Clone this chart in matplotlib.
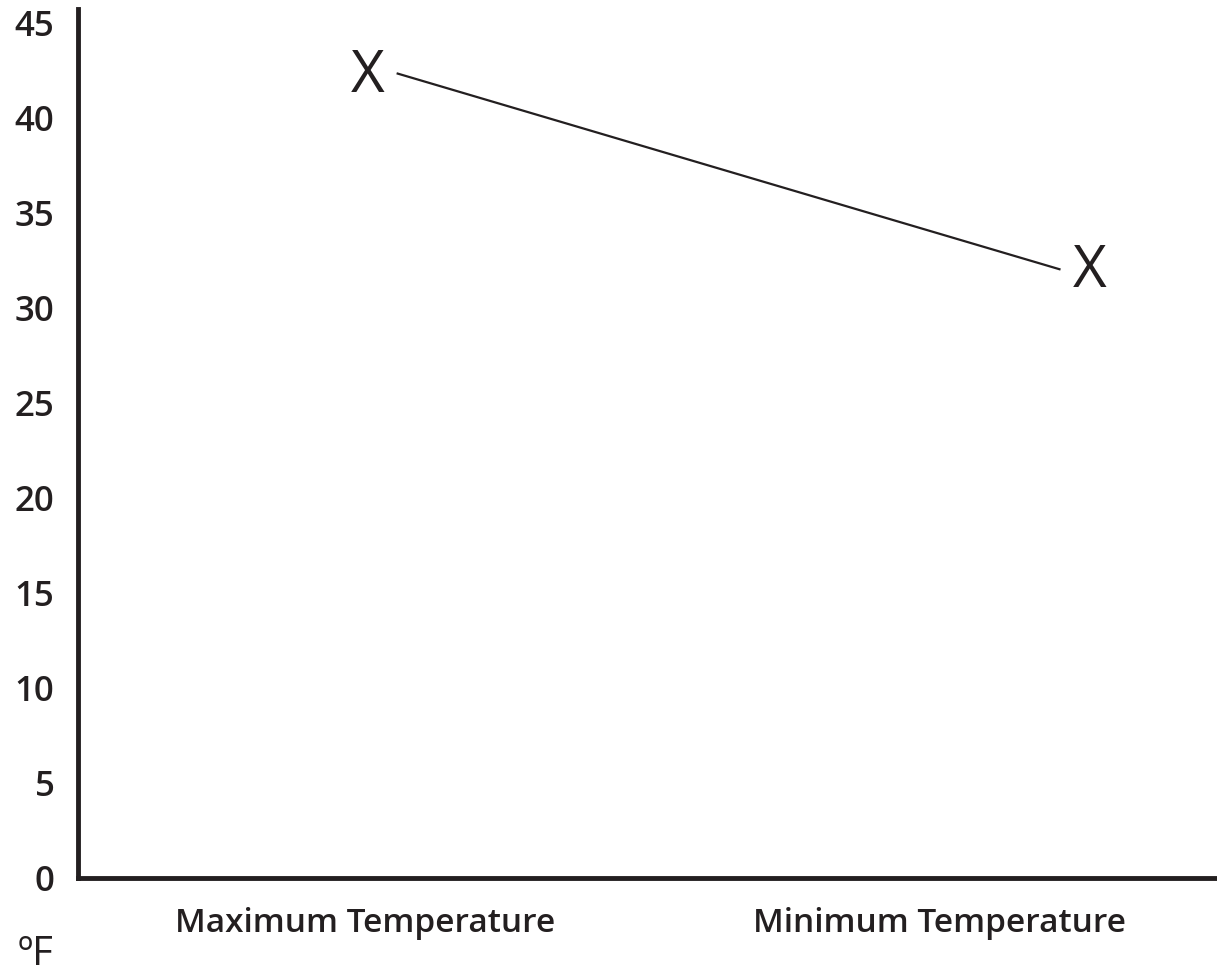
import numpy as np
import matplotlib
matplotlib.use('Agg')
from matplotlib import pyplot as plt
from matplotlib.transforms import offset_copy

# data
categories = ['Maximum Temperature', 'Minimum Temperature']
temps = [42.35, 32.05]
y_ticks = [0, 5, 10, 15, 20, 25, 30, 35, 40, 45]
unit = 'ºF'

ink = '#231f20'
plt.rcParams['font.family'] = ['Open Sans', 'DejaVu Sans']

fig = plt.figure(figsize=(12.17, 9.75), dpi=100)
ax = fig.add_axes([78 / 1217, 97 / 975, 1 - 78 / 1217, (879 - 10) / 975])

# category positions (tick labels) and where the X marks sit
cat_pos = np.arange(len(categories))
mark_pos = cat_pos + np.array([0.005, 0.26])
gap = 0.052

ax.set_xlim(-0.499, 1.482)
ax.set_ylim(0, 45.75)

# X marks, nudged a little down so the glyph centre sits on the value
mark_tr = offset_copy(ax.transData, fig=fig, x=0, y=-3, units='dots')
for x, t in zip(mark_pos, temps):
    ax.text(x, t, 'X', ha='center', va='center', fontsize=42,
            color=ink, fontweight='normal', transform=mark_tr)

ax.plot([mark_pos[0] + gap, mark_pos[1] - gap], temps, color=ink, lw=1.6)

ax.set_xticks(cat_pos)
ax.set_xticklabels(categories, fontsize=24, color=ink, fontweight='semibold')
ax.set_yticks(y_ticks)
ax.set_yticklabels([str(v) for v in y_ticks], fontsize=25, color=ink,
                   fontweight='semibold')
ax.tick_params(axis='both', length=0)
ax.tick_params(axis='y', pad=17)
ax.tick_params(axis='x', pad=21)

for side in ['top', 'right']:
    ax.spines[side].set_visible(False)
for side in ['left', 'bottom']:
    ax.spines[side].set_linewidth(3.5)
    ax.spines[side].set_color(ink)

fig.text(18 / 1217, 0, unit, fontsize=29, color=ink,
         ha='left', va='bottom')

fig.savefig('out.png', dpi=100)
